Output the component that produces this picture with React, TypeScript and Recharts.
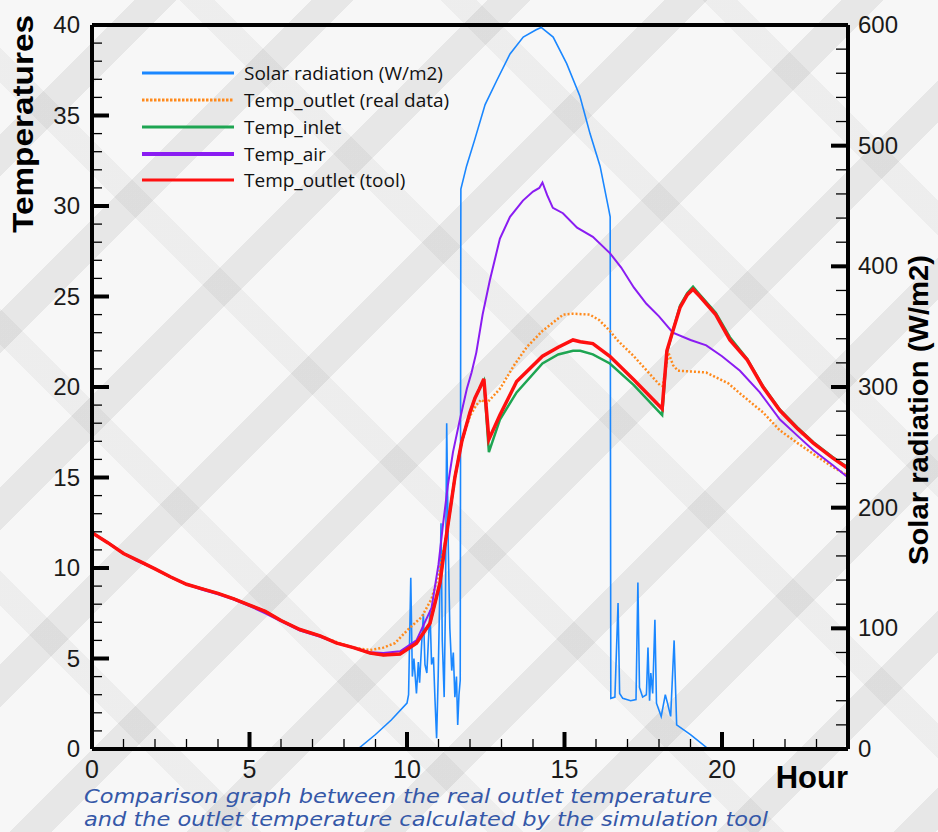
import { ComposedChart, Legend, Line, ReferenceLine, XAxis, YAxis } from 'recharts';

// [hour, value] pairs
const solarRadiation: [number, number][] = [
  [0, 0], [8.44, 0], [9.0, 12], [9.5, 24], [10.0, 38], [10.05, 45], [10.12, 142], [10.17, 60],
  [10.22, 75], [10.3, 46], [10.36, 72], [10.4, 55], [10.46, 85], [10.52, 112], [10.57, 70],
  [10.63, 63], [10.68, 90], [10.73, 115], [10.78, 70], [10.84, 76], [10.89, 40], [10.94, 9],
  [10.99, 60], [11.04, 130], [11.08, 187], [11.12, 90], [11.18, 43], [11.22, 120], [11.26, 270],
  [11.31, 168], [11.36, 100], [11.42, 65], [11.47, 80], [11.52, 43], [11.57, 60], [11.61, 20],
  [11.65, 45], [11.69, 57], [11.71, 464], [11.89, 483], [12.15, 505], [12.48, 534], [12.85, 554],
  [13.27, 576], [13.69, 590], [14.1, 596], [14.26, 598], [14.64, 590], [15.07, 568], [15.49, 541],
  [15.81, 510], [16.13, 483], [16.39, 449], [16.45, 441], [16.47, 42], [16.6, 43], [16.7, 121],
  [16.75, 46], [16.85, 42], [17.1, 40], [17.27, 41], [17.33, 138], [17.38, 51], [17.48, 43],
  [17.6, 45], [17.65, 84], [17.7, 40], [17.74, 63], [17.8, 46], [17.87, 107], [17.92, 38],
  [18.07, 27], [18.2, 45], [18.27, 38], [18.37, 27], [18.48, 90], [18.56, 20], [19.0, 12],
  [19.57, 0], [24, 0],
];

const outletReal: [number, number][] = [
  [0, 11.95], [0.5, 11.4], [1, 10.8], [1.42, 10.45], [2, 9.95], [2.5, 9.5], [3, 9.1], [3.5, 8.85],
  [4, 8.6], [4.5, 8.3], [5, 7.95], [5.5, 7.6], [6, 7.1], [6.6, 6.6], [7.24, 6.25], [7.77, 5.9],
  [8.3, 5.6], [8.83, 5.47], [9.25, 5.6], [9.62, 5.85], [10.03, 6.6], [10.47, 7.3], [10.78, 8.3],
  [11.0, 9.6], [11.2, 11.3], [11.37, 13.3], [11.52, 15.0], [11.74, 17.0], [12.0, 18.4],
  [12.2, 19.0], [12.35, 19.3], [12.53, 19.1], [12.95, 19.9], [13.4, 21.2], [13.8, 22.2],
  [14.3, 23.1], [14.96, 24.0], [15.27, 24.05], [15.8, 24.0], [16.1, 23.7], [16.44, 23.1],
  [16.67, 22.6], [17.2, 21.7], [18.03, 20.1], [18.12, 20.05], [18.3, 21.9], [18.45, 21.2],
  [18.6, 20.9], [19.5, 20.8], [20.2, 20.2], [20.6, 19.6], [21.3, 18.6], [21.84, 17.6],
  [22.4, 16.9], [22.9, 16.3], [23.5, 15.6], [24, 15.1],
];

const inletTemp: [number, number][] = [
  [0, 11.95], [0.5, 11.4], [1, 10.8], [1.42, 10.45], [2, 9.95], [2.5, 9.5], [3, 9.1], [3.5, 8.85],
  [4, 8.6], [4.5, 8.3], [5, 7.95], [5.5, 7.6], [6, 7.1], [6.6, 6.6], [7.24, 6.25], [7.77, 5.85],
  [8.3, 5.6], [8.83, 5.3], [9.25, 5.2], [9.78, 5.25], [10.3, 5.85], [10.73, 6.95], [11.05, 9.2],
  [11.2, 11.2], [11.37, 13.2], [11.52, 15.0], [11.74, 17.0], [12.0, 18.6], [12.16, 19.4],
  [12.3, 19.9], [12.44, 20.35], [12.6, 16.4], [12.95, 18.2], [13.48, 19.7], [14.3, 21.3],
  [14.8, 21.8], [15.27, 22.0], [15.5, 22.0], [15.9, 21.8], [16.44, 21.3], [17.2, 20.1],
  [18.1, 18.45], [18.25, 21.9], [18.44, 23.1], [18.67, 24.5], [18.9, 25.2], [19.08, 25.55],
  [19.3, 25.1], [19.8, 24.1], [20.25, 22.75], [20.8, 21.55], [21.3, 20.05], [21.84, 18.75],
  [22.4, 17.75], [22.9, 16.95], [23.5, 16.15], [24, 15.55],
];

const airTemp: [number, number][] = [
  [0, 11.95], [0.5, 11.4], [1, 10.8], [1.42, 10.4], [2, 9.95], [2.5, 9.5], [3, 9.1], [3.5, 8.8],
  [4, 8.55], [4.5, 8.25], [5, 7.9], [5.5, 7.5], [6, 7.05], [6.6, 6.55], [7.24, 6.2], [7.77, 5.85],
  [8.3, 5.6], [8.83, 5.35], [9.25, 5.3], [9.78, 5.4], [10.3, 6.0], [10.78, 7.8], [11.0, 10.2],
  [11.15, 12.5], [11.3, 14.6], [11.46, 16.4], [11.68, 18.2], [11.9, 19.9], [12.05, 20.8],
  [12.2, 21.9], [12.4, 24.0], [12.63, 25.9], [12.95, 28.2], [13.27, 29.4], [13.68, 30.3],
  [14.0, 30.8], [14.2, 31.0], [14.3, 31.3], [14.45, 30.6], [14.63, 29.9], [14.95, 29.6],
  [15.4, 28.8], [15.9, 28.3], [16.44, 27.4], [16.8, 26.6], [17.2, 25.5], [17.6, 24.6],
  [18.0, 23.9], [18.44, 23.0], [19.0, 22.6], [19.5, 22.3], [20.0, 21.7], [20.57, 20.9],
  [21.2, 19.7], [21.84, 18.2], [22.4, 17.3], [22.9, 16.5], [23.5, 15.7], [24, 15.0],
];

const outletTool: [number, number][] = [
  [0, 11.95], [0.5, 11.4], [1, 10.8], [1.42, 10.45], [2, 9.95], [2.5, 9.5], [3, 9.1], [3.5, 8.85],
  [4, 8.6], [4.5, 8.3], [5, 7.95], [5.5, 7.6], [6, 7.1], [6.6, 6.6], [7.24, 6.25], [7.77, 5.85],
  [8.3, 5.6], [8.83, 5.3], [9.25, 5.2], [9.78, 5.25], [10.3, 5.85], [10.73, 6.95], [11.05, 9.2],
  [11.2, 11.2], [11.37, 13.2], [11.52, 15.0], [11.74, 17.0], [12.0, 18.6], [12.16, 19.4],
  [12.3, 19.9], [12.44, 20.45], [12.6, 17.1], [12.95, 18.45], [13.48, 20.3], [14.3, 21.7],
  [14.8, 22.2], [15.27, 22.6], [15.5, 22.5], [15.9, 22.4], [16.44, 21.7], [17.2, 20.4],
  [18.1, 18.8], [18.25, 22.0], [18.44, 23.1], [18.67, 24.4], [18.9, 25.1], [19.08, 25.4],
  [19.3, 25.0], [19.8, 24.0], [20.25, 22.6], [20.8, 21.5], [21.3, 20.0], [21.84, 18.7],
  [22.4, 17.7], [22.9, 16.9], [23.5, 16.1], [24, 15.5],
];

const HOUR_TICKS = Array.from({ length: 25 }, (_, i) => i);
const TEMP_TICKS = Array.from({ length: 41 }, (_, i) => i);
const SOLAR_TICKS = Array.from({ length: 31 }, (_, i) => i * 20);

const LEGEND_ITEMS = [
  { name: 'Solar radiation (W/m2)', color: '#1a87ff', dash: undefined, width: 3 },
  { name: 'Temp_outlet (real data)', color: '#ff8a1c', dash: '2.5 1.5', width: 3 },
  { name: 'Temp_inlet', color: '#1ea552', dash: undefined, width: 3 },
  { name: 'Temp_air', color: '#8a1cf2', dash: undefined, width: 4 },
  { name: 'Temp_outlet (tool)', color: '#ff1010', dash: undefined, width: 3 },
];

const toPoints = (rows: [number, number][]) => rows.map(([h, v]) => ({ h, v }));

const W = 938;
const H = 832;
const PLOT_L = 92;
const PLOT_R = 848;
const PLOT_T = 25;
const PLOT_B = 749;
const NUM_FONT = '"Liberation Sans", Arial, sans-serif';
const MAJOR_LEN = 17;
const MINOR_LEN = 10;

// ticks point into the plot, majors are long and heavy, minors short and thin
const HourTick = (props: any) => {
  const { x, payload } = props;
  const v = Number(payload.value);
  if (v === 0 || v === 24) {
    return v === 0 ? (
      <text x={x} y={PLOT_B + 29} textAnchor="middle" fontSize={25} fontFamily={NUM_FONT} fill="#1a1a1a">
        0
      </text>
    ) : (
      <g />
    );
  }
  const major = v % 5 === 0;
  return (
    <g>
      <line x1={x} x2={x} y1={PLOT_B} y2={PLOT_B - (major ? MAJOR_LEN : MINOR_LEN)} stroke="#000" strokeWidth={major ? 4 : 1.3} />
      {major && (
        <text x={x} y={PLOT_B + 29} textAnchor="middle" fontSize={25} fontFamily={NUM_FONT} fill="#1a1a1a">
          {v}
        </text>
      )}
    </g>
  );
};

const TempTick = (props: any) => {
  const { y, payload } = props;
  const v = Number(payload.value);
  const major = v % 5 === 0;
  return (
    <g>
      {v > 0 && v < 40 && (
        <line x1={PLOT_L} x2={PLOT_L + (major ? MAJOR_LEN : MINOR_LEN)} y1={y} y2={y} stroke="#000" strokeWidth={major ? 4 : 1.3} />
      )}
      {major && (
        <text x={PLOT_L - 12} y={y + 8} textAnchor="end" fontSize={24} fontFamily={NUM_FONT} fill="#1a1a1a">
          {v}
        </text>
      )}
    </g>
  );
};

const SolarTick = (props: any) => {
  const { y, payload } = props;
  const v = Number(payload.value);
  const major = v % 100 === 0;
  return (
    <g>
      {v > 0 && v < 600 && (
        <line x1={PLOT_R} x2={PLOT_R - (major ? MAJOR_LEN : MINOR_LEN + 2)} y1={y} y2={y} stroke="#000" strokeWidth={major ? 4 : 1.3} />
      )}
      {major && (
        <text x={PLOT_R + 10} y={y + 8} textAnchor="start" fontSize={24} fontFamily={NUM_FONT} fill="#1a1a1a">
          {v}
        </text>
      )}
    </g>
  );
};

const renderLegend = () => (
  <div style={{ fontFamily: '"Open Sans", sans-serif', fontSize: 19, color: '#111' }}>
    {LEGEND_ITEMS.map((item) => (
      <div key={item.name} style={{ display: 'flex', alignItems: 'center', height: 26.75 }}>
        <svg width={96} height={8} style={{ marginRight: 8 }}>
          <line x1={2} x2={94} y1={4} y2={4} stroke={item.color} strokeWidth={item.width} strokeDasharray={item.dash} />
        </svg>
        <span style={{ whiteSpace: 'nowrap' }}>{item.name}</span>
      </div>
    ))}
  </div>
);

export default function App() {
  return (
    <div
      style={{
        position: 'relative',
        width: W,
        height: H,
        backgroundColor: '#f7f7f7',
        backgroundImage:
          'repeating-linear-gradient(135deg, rgba(0,0,0,0) 0 95px, rgba(0,0,0,0.065) 95px 125px), repeating-linear-gradient(45deg, rgba(0,0,0,0) 0 160px, rgba(0,0,0,0.04) 160px 185px)',
        overflow: 'hidden',
      }}
    >
      <style>{'body{margin:0}'}</style>
      <ComposedChart width={W} height={H} margin={{ top: PLOT_T, right: 10, bottom: H - PLOT_B - 40, left: 12 }}>
        <XAxis
          type="number"
          dataKey="h"
          domain={[0, 24]}
          ticks={HOUR_TICKS}
          interval={0}
          tick={HourTick}
          tickLine={false}
          axisLine={{ stroke: '#000', strokeWidth: 4 }}
          height={40}
          allowDataOverflow
          label={() => (
            <text x={PLOT_R} y={788} textAnchor="end" fontSize={31} fontWeight="bold" fontFamily={NUM_FONT} fill="#000">
              Hour
            </text>
          )}
        />
        <YAxis
          yAxisId="temp"
          orientation="left"
          width={80}
          domain={[0, 40]}
          ticks={TEMP_TICKS}
          interval={0}
          tick={TempTick}
          tickLine={false}
          axisLine={{ stroke: '#000', strokeWidth: 4 }}
          allowDataOverflow
          label={() => (
            <text
              x={33}
              y={124}
              transform="rotate(-90, 33, 124)"
              textAnchor="middle"
              fontSize={29}
              fontWeight="bold"
              fontFamily={NUM_FONT}
              textLength={218}
              lengthAdjust="spacingAndGlyphs"
              fill="#000"
            >
              Temperatures
            </text>
          )}
        />
        <YAxis
          yAxisId="solar"
          orientation="right"
          width={80}
          domain={[0, 600]}
          ticks={SOLAR_TICKS}
          interval={0}
          tick={SolarTick}
          tickLine={false}
          axisLine={{ stroke: '#000', strokeWidth: 4 }}
          allowDataOverflow
          label={() => (
            <text
              x={928}
              y={410}
              transform="rotate(-90, 928, 410)"
              textAnchor="middle"
              fontSize={28}
              fontWeight="bold"
              fontFamily={NUM_FONT}
              textLength={310}
              lengthAdjust="spacingAndGlyphs"
              fill="#000"
            >
              Solar radiation (W/m2)
            </text>
          )}
        />
        <ReferenceLine yAxisId="temp" y={40} stroke="#000" strokeWidth={4} />
        <Line
          yAxisId="solar"
          data={toPoints(solarRadiation)}
          dataKey="v"
          name="Solar radiation (W/m2)"
          stroke="#1a87ff"
          strokeWidth={1.6}
          dot={false}
          activeDot={false}
          isAnimationActive={false}
        />
        <Line
          yAxisId="temp"
          data={toPoints(outletReal)}
          dataKey="v"
          name="Temp_outlet (real data)"
          stroke="#ff8a1c"
          strokeWidth={2.5}
          strokeDasharray="2 2"
          dot={false}
          activeDot={false}
          isAnimationActive={false}
        />
        <Line
          yAxisId="temp"
          data={toPoints(airTemp)}
          dataKey="v"
          name="Temp_air"
          stroke="#8a1cf2"
          strokeWidth={2}
          dot={false}
          activeDot={false}
          isAnimationActive={false}
        />
        <Line
          yAxisId="temp"
          data={toPoints(inletTemp)}
          dataKey="v"
          name="Temp_inlet"
          stroke="#1ea552"
          strokeWidth={2.5}
          dot={false}
          activeDot={false}
          isAnimationActive={false}
        />
        <Line
          yAxisId="temp"
          data={toPoints(outletTool)}
          dataKey="v"
          name="Temp_outlet (tool)"
          stroke="#ff1010"
          strokeWidth={3.5}
          dot={false}
          activeDot={false}
          isAnimationActive={false}
        />
        <Legend
          layout="vertical"
          align="center"
          verticalAlign="middle"
          content={renderLegend}
          wrapperStyle={{ left: 140, top: 60, width: 360, height: 140 }}
        />
      </ComposedChart>
      <svg width={W} height={60} style={{ position: 'absolute', left: 0, top: 780 }}>
        <text
          x={84}
          y={23}
          fontSize={19}
          fontStyle="italic"
          fontFamily='"DejaVu Sans", Verdana, sans-serif'
          fill="#3558a8"
          textLength={628}
          lengthAdjust="spacingAndGlyphs"
        >
          Comparison graph between the real outlet temperature
        </text>
        <text
          x={84}
          y={46}
          fontSize={19}
          fontStyle="italic"
          fontFamily='"DejaVu Sans", Verdana, sans-serif'
          fill="#3558a8"
          textLength={684}
          lengthAdjust="spacingAndGlyphs"
        >
          and the outlet temperature calculated by the simulation tool
        </text>
      </svg>
    </div>
  );
}
